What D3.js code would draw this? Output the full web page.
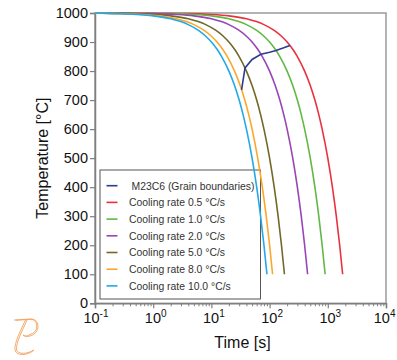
<!DOCTYPE html>
<html>
<head>
<meta charset="utf-8">
<script src="https://cdn.jsdelivr.net/npm/d3@7"></script>
<style>
  html, body { margin: 0; padding: 0; background: #fff; }
  svg { display: block; font-family: "Liberation Sans", Arial, sans-serif; }
</style>
</head>
<body>
<svg id="chart" width="397" height="360"></svg>
<script>
// ---------- data ----------
const temperatures = [1000, 998, 995, 990, 980, 960, 940, 920, 900, 875, 850, 800, 750, 700, 650, 600, 500, 400, 300, 200, 100];
const seriesNames = ["Cooling rate 0.5 °C/s", "Cooling rate 1.0 °C/s", "Cooling rate 2.0 °C/s",
                     "Cooling rate 5.0 °C/s", "Cooling rate 8.0 °C/s", "Cooling rate 10.0 °C/s"];
const timesRate05 = [0.1, 4, 10, 20, 40, 80, 120, 160, 200, 250, 300, 400, 500, 600, 700, 800, 1000, 1200, 1400, 1600, 1800];
const timesRate10 = [0.1, 2, 5, 10, 20, 40, 60, 80, 100, 125, 150, 200, 250, 300, 350, 400, 500, 600, 700, 800, 900];
const timesRate20 = [0.1, 1, 2.5, 5, 10, 20, 30, 40, 50, 62.5, 75, 100, 125, 150, 175, 200, 250, 300, 350, 400, 450];
const timesRate50 = [0.1, 0.4, 1, 2, 4, 8, 12, 16, 20, 25, 30, 40, 50, 60, 70, 80, 100, 120, 140, 160, 180];
const timesRate80 = [0.1, 0.25, 0.625, 1.25, 2.5, 5, 7.5, 10, 12.5, 15.6, 18.75, 25, 31.25, 37.5, 43.75, 50, 62.5, 75, 87.5, 100, 112.5];
const timesRate100 = [0.1, 0.2, 0.5, 1, 2, 4, 6, 8, 10, 12.5, 15, 20, 25, 30, 35, 40, 50, 60, 70, 80, 90];
const seriesTimes = [timesRate05, timesRate10, timesRate20, timesRate50, timesRate80, timesRate100];
const seriesColors = ["#e8333f", "#62b845", "#9a45b5", "#726828", "#fba82a", "#22a9e6"];

const m23Name = "M23C6 (Grain boundaries)";
const m23Times = [224, 175, 129, 100, 71, 50, 37.8, 33];
const m23Temps = [888, 880, 871, 865, 858, 840, 811, 735];
const m23Color = "#2d3d8e";

const xTickExps = [-1, 0, 1, 2, 3, 4];
const yTicks = [0, 100, 200, 300, 400, 500, 600, 700, 800, 900, 1000];

// ---------- layout ----------
const svg = d3.select("#chart");
const x = d3.scaleLog().domain([0.1, 1e4]).range([95, 386]);
const y = d3.scaleLinear().domain([0, 1000]).range([303.3, 13]);
const axisColor = "#7f7f7f";

// frame (top/right)
svg.append("rect")
  .attr("x", x.range()[0]).attr("y", y.range()[1])
  .attr("width", x.range()[1] - x.range()[0])
  .attr("height", y.range()[0] - y.range()[1])
  .attr("fill", "none").attr("stroke", "#9a9a9a").attr("stroke-width", 1.5);

// y axis
const yAxis = svg.append("g")
  .attr("transform", `translate(${x.range()[0]},0)`)
  .call(d3.axisLeft(y).tickValues(yTicks).tickSize(5).tickPadding(2).tickFormat(d3.format("d")));
yAxis.select(".domain").attr("stroke", axisColor).attr("stroke-width", 1.5);
yAxis.selectAll(".tick line").attr("stroke", axisColor).attr("stroke-width", 1.2);
yAxis.selectAll(".tick text").attr("font-size", 14.5).attr("fill", "#111")
  .attr("font-family", "Liberation Sans, Arial, sans-serif");

// x axis (major + minor)
const minorTicks = [];
for (let e = -1; e < 4; e++) for (let m = 2; m <= 9; m++) minorTicks.push(m * Math.pow(10, e));
const xAxisG = svg.append("g").attr("transform", `translate(0,${y.range()[0]})`);
xAxisG.call(d3.axisBottom(x).tickValues(xTickExps.map(e => Math.pow(10, e))).tickSize(5).tickFormat(""));
xAxisG.select(".domain").attr("stroke", axisColor).attr("stroke-width", 1.5);
xAxisG.selectAll(".tick line").attr("stroke", axisColor).attr("stroke-width", 1.2);
const xMinor = svg.append("g").attr("transform", `translate(0,${y.range()[0]})`)
  .call(d3.axisBottom(x).tickValues(minorTicks).tickSize(3).tickFormat(""));
xMinor.select(".domain").remove();
xMinor.selectAll(".tick line").attr("stroke", axisColor).attr("stroke-width", 1);

// x tick labels with superscripts ("10" roughly centred on the tick)
xTickExps.forEach((e, i) => {
  const last = i === xTickExps.length - 1;
  const t = svg.append("text")
    .attr("x", last ? 395.5 : x(Math.pow(10, e)) + (e < 0 ? 1 : 2.5)).attr("y", 323)
    .attr("text-anchor", last ? "end" : "middle").attr("font-size", 14.5).attr("fill", "#111");
  t.append("tspan").text("10");
  t.append("tspan").attr("dy", -6).attr("font-size", 10).text(String(e));
});

// axis titles
svg.append("text").attr("x", x(10 ** 1.5) + 2).attr("y", 348)
  .attr("text-anchor", "middle").attr("font-size", 16).attr("fill", "#111").text("Time [s]");
svg.append("text")
  .attr("transform", `translate(48,${(y.range()[0] + y.range()[1]) / 2}) rotate(-90)`)
  .attr("text-anchor", "middle").attr("font-size", 16).attr("fill", "#111").text("Temperature [°C]");

// legend
const legend = svg.append("g");
legend.append("rect").attr("x", 100).attr("y", 170).attr("width", 160.5).attr("height", 129)
  .attr("fill", "none").attr("stroke", "#555").attr("stroke-width", 1);
const legendNames = [m23Name].concat(seriesNames);
const legendColors = [m23Color].concat(seriesColors);
legendNames.forEach((name, i) => {
  const cy = 185.7 + i * 16.7;
  legend.append("line").attr("x1", 106.5).attr("x2", 117.5).attr("y1", cy).attr("y2", cy)
    .attr("stroke", legendColors[i]).attr("stroke-width", 1.6);
  legend.append("text").attr("x", i === 0 ? 131.5 : 129).attr("y", cy + 3.8)
    .attr("font-size", 10.4).attr("fill", "#333").text(name);
});

// curves
const line = d3.line().x(d => x(d[0])).y(d => y(d[1])).curve(d3.curveMonotoneX);
seriesTimes.forEach((times, i) => {
  svg.append("path")
    .datum(times.map((t, j) => [t, temperatures[j]]))
    .attr("fill", "none").attr("stroke", seriesColors[i]).attr("stroke-width", 1.6)
    .attr("d", line);
});
svg.append("path")
  .datum(m23Times.map((t, j) => [t, m23Temps[j]]))
  .attr("fill", "none").attr("stroke", m23Color).attr("stroke-width", 1.6)
  .attr("d", d3.line().x(d => x(d[0])).y(d => y(d[1])));

// logo
const logo = svg.append("g").attr("fill", "none").attr("stroke", "#f3a15e").attr("stroke-width", 0.9);
[0, 1.6].forEach(o => {
  logo.append("path").attr("d",
    `M${14 + o},${320 + o * 0.2} L${31},${319 + o * 0.2} C${40 - o},${319 + o * 0.3} ${41 - o},${333 - o * 0.5} ${30},${336 - o} C${27},${337} ${24},${336} ${23},${335}`);
  logo.append("path").attr("d",
    `M${25.5 + o},${320} C${21 + o},${330} ${14 + o},${343} ${15 + o},${350} C${16 + o},${356 - o} ${27},${356 - o} ${34},${350}`);
});
</script>
</body>
</html>
